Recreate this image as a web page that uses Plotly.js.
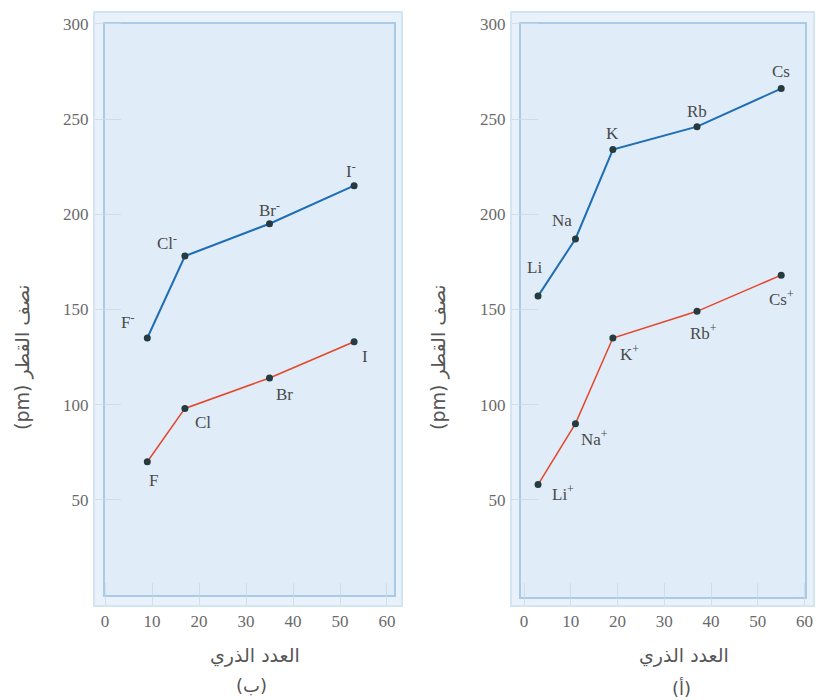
<!DOCTYPE html>
<html>
<head>
<meta charset="utf-8">
<script src="https://cdn.plot.ly/plotly-3.0.1.min.js"></script>
<style>
html,body{margin:0;padding:0;background:#fff;}
#chart{width:816px;height:700px;}
</style>
</head>
<body>
<div id="chart"></div>
<script>
// ---------- data ----------
const halZ = [9, 17, 35, 53];
const halAtomR = [70, 98, 114, 133];
const halIonR = [135, 178, 195, 215];
const halAtomLabels = ['F', 'Cl', 'Br', 'I'];
const halIonLabels = ['F<sup>-</sup>', 'Cl<sup>-</sup>', 'Br<sup>-</sup>', 'I<sup>-</sup>'];

const alkZ = [3, 11, 19, 37, 55];
const alkAtomR = [157, 187, 234, 246, 266];
const alkIonR = [58, 90, 135, 149, 168];
const alkAtomLabels = ['Li', 'Na', 'K', 'Rb', 'Cs'];
const alkIonLabels = ['Li<sup>+</sup>', 'Na<sup>+</sup>', 'K<sup>+</sup>', 'Rb<sup>+</sup>', 'Cs<sup>+</sup>'];

const xTicks = [0, 10, 20, 30, 40, 50, 60];
const yTicks = [50, 100, 150, 200, 250, 300];
const yTitle = '(pm) نصف القطر';
const xTitle = 'العدد الذري';
const panelLeft = '\u200E(ب)\u200E';
const panelRight = '\u200E(أ)\u200E';

// ---------- styling (label offsets in px) ----------
const halAtomShift = [[6, -19], [18, -14], [15, -17], [11, -15]];
const halIonShift = [[-20, 17], [-18, 14], [0, 15], [-3, 16]];
const alkAtomShift = [[-4, 29], [-13, 18], [0, 16], [0, 15], [0, 17]];
const alkIonShift = [[25, -8], [19, -14], [17, -15], [6, -21], [0, -23]];

const FONT = "'Liberation Serif', 'Times New Roman', 'DejaVu Serif', serif";
const AR_FONT = "'DejaVu Sans', sans-serif";
const BLUE = '#1f6db5';
const RED = '#e5452a';
const MARK = '#263b3f';

function trace(x, y, color, width, xa, ya) {
  return {
    x: x, y: y, xaxis: xa, yaxis: ya, type: 'scatter', mode: 'lines+markers',
    line: {color: color, width: width},
    marker: {color: MARK, size: 7},
    hoverinfo: 'skip', showlegend: false
  };
}

const data = [
  trace(halZ, halIonR, BLUE, 2, 'x', 'y'),
  trace(halZ, halAtomR, RED, 1.5, 'x', 'y'),
  trace(alkZ, alkAtomR, BLUE, 2, 'x2', 'y2'),
  trace(alkZ, alkIonR, RED, 1.5, 'x2', 'y2')
];

const annotations = [];
function labels(xs, ys, texts, shifts, xr, yr) {
  xs.forEach((xv, i) => {
    annotations.push({
      x: xv, y: ys[i], xref: xr, yref: yr, text: texts[i], showarrow: false,
      xshift: shifts[i][0], yshift: shifts[i][1],
      font: {family: FONT, size: 17, color: '#4a4a4a'}
    });
  });
}
labels(halZ, halIonR, halIonLabels, halIonShift, 'x', 'y');
labels(halZ, halAtomR, halAtomLabels, halAtomShift, 'x', 'y');
labels(alkZ, alkAtomR, alkAtomLabels, alkAtomShift, 'x2', 'y2');
labels(alkZ, alkIonR, alkIonLabels, alkIonShift, 'x2', 'y2');

function textAt(px, py, txt, size, rot, fam) {
  annotations.push({
    x: px / 816, y: 1 - py / 700, xref: 'paper', yref: 'paper',
    text: txt, showarrow: false, textangle: rot || 0,
    xanchor: 'center', yanchor: 'middle',
    font: {family: fam || AR_FONT, size: size, color: '#555'}
  });
}
textAt(255, 655, xTitle, 19);
textAt(251, 685, panelLeft, 18);
textAt(684, 655, xTitle, 19);
textAt(681, 688, panelRight, 18);
textAt(22, 357, yTitle, 19, -90);
textAt(438, 357, yTitle, 19, -90);

const yDom = [(700 - 605) / 700, (700 - 13) / 700];

function xaxis(dom, rng, anchor) {
  return {
    domain: dom, range: rng, anchor: anchor,
    tickvals: xTicks, ticktext: xTicks.map(String),
    showgrid: false, zeroline: false,
    showline: true, mirror: true, linecolor: '#d3e4f3', linewidth: 2,
    ticks: 'inside', ticklen: 22, tickcolor: 'rgba(200,215,228,0.7)', tickwidth: 1,
    ticklabelstandoff: 0,
    tickfont: {family: FONT, size: 17, color: '#6a6a6a'}
  };
}
function yaxis(rng, anchor) {
  return {
    domain: yDom, range: rng, anchor: anchor,
    tickvals: yTicks, ticktext: yTicks.map(String),
    showgrid: false, zeroline: false,
    showline: true, mirror: true, linecolor: '#d3e4f3', linewidth: 2,
    ticks: 'inside', ticklen: 26, tickcolor: 'rgba(200,215,228,0.7)', tickwidth: 1,
    ticklabelstandoff: 1,
    tickfont: {family: FONT, size: 17, color: '#6a6a6a'}
  };
}

const yRange = [-5.25, 305.7];

const layout = {
  width: 816, height: 700,
  margin: {l: 0, r: 0, t: 0, b: 0},
  paper_bgcolor: '#ffffff',
  plot_bgcolor: '#e9f2fb',
  showlegend: false,
  xaxis: xaxis([95 / 816, 401 / 816], [-2.13, 62.98], 'y'),
  yaxis: yaxis(yRange, 'x'),
  xaxis2: xaxis([512 / 816, 813 / 816], [-2.57, 61.8], 'y2'),
  yaxis2: yaxis(yRange, 'x2'),
  shapes: [
    {type: 'rect', xref: 'paper', yref: 'paper', layer: 'below',
     x0: 104 / 816, x1: 395 / 816, y0: 1 - 596 / 700, y1: 1 - 23 / 700,
     fillcolor: '#e0ecf8', line: {color: '#a9cbe8', width: 2}},
    {type: 'rect', xref: 'paper', yref: 'paper', layer: 'below',
     x0: 520 / 816, x1: 806 / 816, y0: 1 - 598 / 700, y1: 1 - 23 / 700,
     fillcolor: '#e0ecf8', line: {color: '#a9cbe8', width: 2}}
  ],
  annotations: annotations
};

Plotly.newPlot('chart', data, layout, {displayModeBar: false, staticPlot: true});
</script>
</body>
</html>
